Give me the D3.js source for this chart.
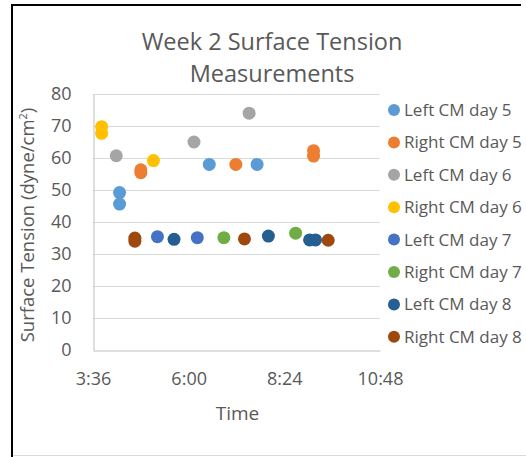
<!DOCTYPE html>
<html>
<head>
<meta charset="utf-8">
<script src="https://cdn.jsdelivr.net/npm/d3@7"></script>
<style>
  body { margin: 0; background: #fff; }
  svg { display: block; }
</style>
</head>
<body>
<div id="chart"></div>
<script>
const seriesNames = [
  "Left CM day 5", "Right CM day 5", "Left CM day 6", "Right CM day 6",
  "Left CM day 7", "Right CM day 7", "Left CM day 8", "Right CM day 8",
];
const seriesColors = [
  "#5b9bd5", "#ed7d31", "#a5a5a5", "#ffc000",
  "#4472c4", "#70ad47", "#255e91", "#9e480e",
];
// times (h:mm) and surface tension values, one pair of arrays per series
const leftDay5Times = ["4:16", "4:16", "6:31", "7:43"];
const leftDay5Values = [49.2, 45.6, 58.0, 58.0];
const rightDay5Times = ["4:48", "4:48", "7:11", "9:08", "9:08"];
const rightDay5Values = [56.3, 55.4, 58.0, 62.3, 60.6];
const leftDay6Times = ["4:11", "6:08", "7:31"];
const leftDay6Values = [60.7, 65.0, 74.0];
const rightDay6Times = ["3:49", "3:49", "5:07"];
const rightDay6Values = [69.8, 67.7, 59.2];
const leftDay7Times = ["5:13", "6:13"];
const leftDay7Values = [35.4, 35.1];
const rightDay7Times = ["6:53", "8:41"];
const rightDay7Values = [35.1, 36.5];
const leftDay8Times = ["5:38", "8:00", "9:02", "9:11"];
const leftDay8Values = [34.6, 35.6, 34.4, 34.4];
const rightDay8Times = ["4:39", "4:39", "7:24", "9:30"];
const rightDay8Values = [35.0, 34.0, 34.7, 34.3];

const xTickLabels = ["3:36", "6:00", "8:24", "10:48"];
const yTicks = [0, 10, 20, 30, 40, 50, 60, 70, 80];

const toHours = (s) => {
  const [h, m] = s.split(":").map(Number);
  return h + m / 60;
};

const seriesTimes = [leftDay5Times, rightDay5Times, leftDay6Times, rightDay6Times,
  leftDay7Times, rightDay7Times, leftDay8Times, rightDay8Times];
const seriesValues = [leftDay5Values, rightDay5Values, leftDay6Values, rightDay6Values,
  leftDay7Values, rightDay7Values, leftDay8Values, rightDay8Values];

const series = seriesNames.map((name, i) => ({
  name,
  color: seriesColors[i],
  points: seriesTimes[i].map((t, j) => ({ t: toHours(t), v: seriesValues[i][j] })),
}));

const width = 526, height = 457;
const font = "'Open Sans', 'DejaVu Sans', sans-serif";
const textColor = "#595959";

const svg = d3.select("#chart").append("svg")
  .attr("width", width).attr("height", height);

// frame
svg.append("rect").attr("x", 12).attr("y", 5).attr("width", 520).attr("height", 450)
  .attr("fill", "#fff");
svg.append("line").attr("x1", 12).attr("x2", 12).attr("y1", 4).attr("y2", 457)
  .attr("stroke", "#000").attr("stroke-width", 2);
svg.append("line").attr("x1", 11).attr("x2", 521).attr("y1", 5).attr("y2", 5)
  .attr("stroke", "#000").attr("stroke-width", 2);
svg.append("line").attr("x1", 13).attr("x2", 526).attr("y1", 455.5).attr("y2", 455.5)
  .attr("stroke", "#d9d9d9").attr("stroke-width", 1);

const x = d3.scaleLinear().domain([toHours(xTickLabels[0]), toHours(xTickLabels[3])]).range([93, 380]);
const y = d3.scaleLinear().domain([0, 80]).range([350, 94]);

// gridlines
svg.append("g")
  .selectAll("line")
  .data(yTicks.slice(1))
  .join("line")
  .attr("x1", x.range()[0]).attr("x2", x.range()[1])
  .attr("y1", (d) => Math.round(y(d)) + 0.5).attr("y2", (d) => Math.round(y(d)) + 0.5)
  .attr("stroke", "#d9d9d9");

// y axis
const yAxis = svg.append("g")
  .attr("transform", `translate(${x.range()[0] + 0.5},0)`)
  .call(d3.axisLeft(y).tickValues(yTicks).tickSize(0).tickPadding(22));
yAxis.select(".domain").attr("stroke", "#bfbfbf");
yAxis.selectAll("text")
  .style("font-family", font).style("font-size", "18px").attr("fill", textColor);

// x axis
const xAxis = svg.append("g")
  .attr("transform", `translate(0,${Math.round(y(0)) + 0.5})`)
  .call(d3.axisBottom(x).tickValues(xTickLabels.map(toHours)).tickSize(0).tickPadding(22)
    .tickFormat((d, i) => xTickLabels[i]));
xAxis.select(".domain").attr("stroke", "#bfbfbf");
xAxis.selectAll("text")
  .style("font-family", font).style("font-size", "18px").attr("fill", textColor);

// points
svg.append("g")
  .selectAll("g")
  .data(series)
  .join("g")
  .attr("fill", (d) => d.color)
  .selectAll("circle")
  .data((d) => d.points)
  .join("circle")
  .attr("cx", (d) => x(d.t))
  .attr("cy", (d) => y(d.v))
  .attr("r", 6.5);

// title
const title = svg.append("text")
  .attr("x", 272).attr("text-anchor", "middle")
  .style("font-family", font).style("font-size", "23.5px").attr("fill", textColor);
title.append("tspan").attr("x", 272).attr("y", 50).text("Week 2 Surface Tension");
title.append("tspan").attr("x", 272).attr("y", 82).text("Measurements");

// axis titles
svg.append("text")
  .attr("x", (x.range()[0] + x.range()[1]) / 2 + 1).attr("y", 420)
  .attr("text-anchor", "middle")
  .style("font-family", font).style("font-size", "19px").attr("fill", textColor)
  .text("Time");

const yTitle = svg.append("text")
  .attr("transform", `translate(34,${(y(0) + y(80)) / 2 + 3}) rotate(-90)`)
  .attr("text-anchor", "middle")
  .style("font-family", font).style("font-size", "18.5px").attr("fill", textColor);
yTitle.append("tspan").text("Surface Tension (dyne/cm");
yTitle.append("tspan").attr("dy", -7).style("font-size", "11px").text("2");
yTitle.append("tspan").attr("dy", 7).text(")");

// legend
const legend = svg.append("g")
  .selectAll("g")
  .data(series)
  .join("g")
  .attr("transform", (d, i) => `translate(394,${110 + i * 32.4})`);
legend.append("circle").attr("r", 6).attr("fill", (d) => d.color);
legend.append("text")
  .attr("x", 10).attr("dy", "0.35em")
  .style("font-family", font).style("font-size", "17px").attr("fill", textColor)
  .text((d) => d.name);
</script>
</body>
</html>
